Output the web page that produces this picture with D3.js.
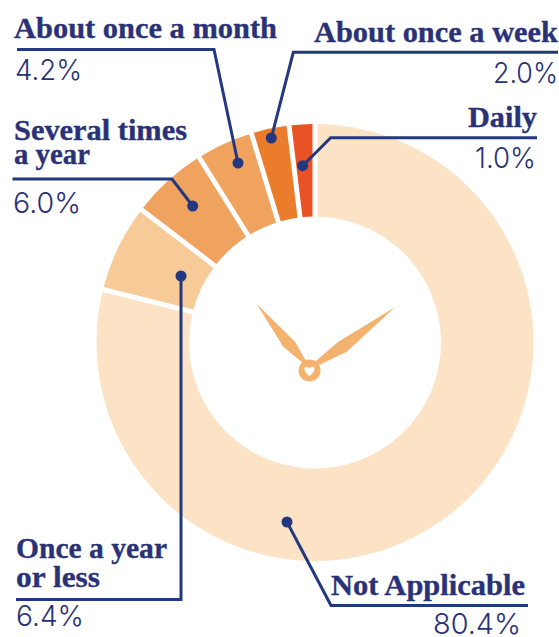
<!DOCTYPE html>
<html><head><meta charset="utf-8">
<script src="https://cdn.jsdelivr.net/npm/d3@7"></script>
<style>html,body{margin:0;padding:0;background:#fff}svg{display:block}</style>
</head><body><svg id="c" width="559" height="637"></svg>
<script>
// Data, clockwise from 12 o'clock
const categories = ["Not Applicable","Once a year or less","Several times a year","About once a month","About once a week","Daily"];
const printedPercent = [80.4,6.4,6.0,4.2,2.0,1.0];
// Slice sweeps as drawn in the picture (%); the smallest slices are drawn wider than their printed share
const drawnShare = [78.9,6.5,5.7,4.2,2.8,1.9];
const sliceColors = ["#FCE3C5","#F7CB98","#F0A25F","#F0A25F","#EA7C2C","#E95225"];

const W=559,H=637,cx=315,cy=342.5,R=218.5,r0=126;
const navy="#23387F", textNavy="#2A3277", handColor="#F4B26F";
const svg=d3.select("#c");

const pie=d3.pie().sort(null).value(d=>d.share);
const rows=categories.map((c,i)=>({c,share:drawnShare[i],color:sliceColors[i]}));
const arc=d3.arc().innerRadius(r0).outerRadius(R).padRadius(R).padAngle(5/R);
svg.append("g").attr("transform",`translate(${cx},${cy})`)
 .selectAll("path").data(pie(rows)).join("path")
 .attr("d",arc).attr("fill",d=>d.data.color);

// clock decoration
const clock=svg.append("g").attr("fill",handColor);
const poly=d3.line();
clock.append("path").attr("d",poly([[256.7,304],[283.3,346.7],[302.7,362.7],[306,361],[295,341.7]])+"Z");
clock.append("path").attr("d",poly([[395,307.3],[338.3,341.7],[315,361.7],[319.3,365],[346.7,351.7]])+"Z");
clock.append("circle").attr("cx",309.5).attr("cy",370.5).attr("r",11);
svg.append("path").attr("fill","#fff").attr("d","M309.5 376 C304 372 303.2 367.5 306.2 366.8 C307.8 366.5 309 367.4 309.5 368.6 C310.2 367.4 311.4 366.5 313 366.8 C316 367.5 315 372 309.5 376Z");

// labels & leaders (annotation layout)
const annos=[
 {i:3,pts:[[17,49.5],[214,49.5],[238,163]],head:[{t:"About once a month",x:14,y:38,w:263}],pct:{x:15,y:80,w:67}},
 {i:2,pts:[[12.5,179],[172,179],[192.7,206]],head:[{t:"Several times",x:14,y:139.5,w:173},{t:"a year",x:14,y:163.5,w:76}],pct:{x:13,y:212.5,w:68}},
 {i:4,pts:[[558,52.3],[293.3,52.3],[271.3,138]],head:[{t:"About once a week",x:314,y:41.7,w:244}],pct:{x:493,y:82.5,w:65}},
 {i:5,pts:[[537,137.7],[330.7,137.7],[302.7,165.7]],head:[{t:"Daily",x:468,y:126.7,w:69}],pct:{x:475,y:168,w:61}},
 {i:1,pts:[[16,599.5],[181,599.5],[181,276]],head:[{t:"Once a year",x:16,y:558,w:151},{t:"or less",x:16,y:587,w:84}],pct:{x:16,y:626,w:68}},
 {i:0,pts:[[528,605.5],[331,605.5],[287,522]],head:[{t:"Not Applicable",x:331,y:595,w:194}],pct:{x:433,y:634,w:88}}
];
const fmt=d3.format(".1f");
annos.forEach(a=>{
  svg.append("path").attr("d",poly(a.pts)).attr("fill","none").attr("stroke",navy).attr("stroke-width",3).attr("stroke-linejoin","miter");
  const e=a.pts[a.pts.length-1];
  svg.append("circle").attr("cx",e[0]).attr("cy",e[1]).attr("r",5.5).attr("fill",navy);
  a.head.forEach(h=>svg.append("text").text(h.t).attr("x",h.x).attr("y",h.y)
     .attr("font-family","'Liberation Serif',serif").attr("font-weight",700).attr("font-size",30)
     .attr("fill",textNavy).attr("stroke",textNavy).attr("stroke-width",0.35)
     .attr("textLength",h.w).attr("lengthAdjust","spacingAndGlyphs"));
  svg.append("text").text(fmt(printedPercent[a.i])+"%").attr("x",a.pct.x).attr("y",a.pct.y)
     .attr("font-family","Inter,sans-serif").attr("font-weight",300).attr("font-size",29)
     .attr("fill",textNavy).attr("textLength",a.pct.w).attr("lengthAdjust","spacingAndGlyphs");
});
</script></body></html>
